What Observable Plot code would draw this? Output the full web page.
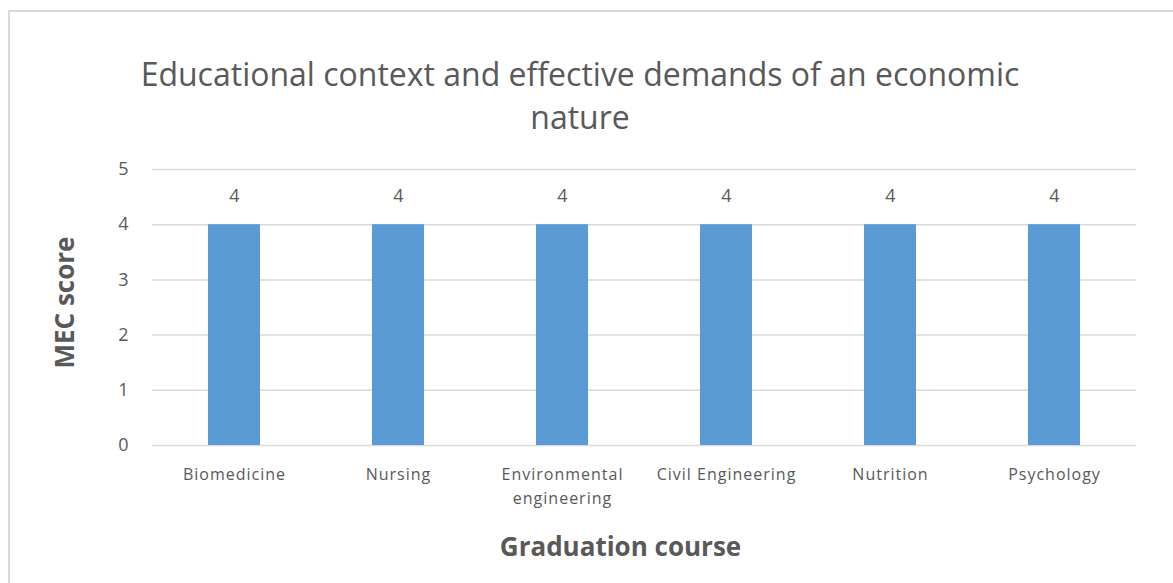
<!DOCTYPE html>
<html>
<head>
<meta charset="utf-8">
<script src="https://cdn.jsdelivr.net/npm/d3@7"></script>
<script src="https://cdn.jsdelivr.net/npm/@observablehq/plot@0.6"></script>
<style>
  html, body { margin: 0; padding: 0; background: #fff; }
  #wrap { position: relative; width: 1173px; height: 583px; overflow: hidden; font-family: "Open Sans", sans-serif; }
  #frame { position: absolute; left: 8px; top: 10px; width: 1200px; height: 600px; border: 2px solid #d9d9d9; box-sizing: border-box; }
  #title { position: absolute; left: 0; top: 52px; width: 1160px; text-align: center; font-size: 32px; line-height: 43px; color: #595959; }
  #chart { position: absolute; left: 0; top: 140px; }
  .xticks text { letter-spacing: 1px; }
</style>
</head>
<body>
<div id="wrap">
  <div id="frame"></div>
  <div id="title">Educational context and effective demands of an economic<br>nature</div>
  <div id="chart"></div>
</div>
<script>
const courses = ["Biomedicine", "Nursing", "Environmental\nengineering", "Civil Engineering", "Nutrition", "Psychology"];
const scores = [4, 4, 4, 4, 4, 4];
const yTicks = [0, 1, 2, 3, 4, 5];

const data = courses.map((c, i) => ({course: c, score: scores[i]}));

const plot = Plot.plot({
  width: 1173,
  height: 443,
  marginTop: 29,
  marginBottom: 138,
  marginLeft: 152,
  marginRight: 37,
  style: {fontFamily: "Open Sans, sans-serif", color: "#595959", background: "transparent"},
  x: {domain: courses, paddingInner: 0.68, paddingOuter: 0.34, label: null},
  y: {domain: [0, 5], label: null},
  marks: [
    Plot.gridY(yTicks, {stroke: "#d9d9d9", strokeOpacity: 1, strokeWidth: 1.5}),
    Plot.barY(data, {x: "course", y: "score", fill: "#5B9BD5"}),
    Plot.text(data, {x: "course", y: "score", text: d => String(d.score), dy: -28, fontSize: 18, fill: "#595959"}),
    Plot.axisY({ticks: yTicks, tickFormat: "d", tickSize: 0, tickPadding: 24, fontSize: 18, label: null}),
    Plot.axisX({tickSize: 0, tickPadding: 17, fontSize: 16, label: null, lineHeight: 1.5, className: "xticks"}),
    Plot.text(["MEC score"], {frameAnchor: "left", dx: -87, dy: -5, rotate: -90, textAnchor: "middle", fontSize: 26, fontWeight: "bold", fill: "#595959"}),
    Plot.text(["Graduation course"], {frameAnchor: "bottom", dy: 110, dx: -24, fontSize: 26, fontWeight: "bold", fill: "#595959"})
  ]
});
document.getElementById("chart").appendChild(plot);
</script>
</body>
</html>
